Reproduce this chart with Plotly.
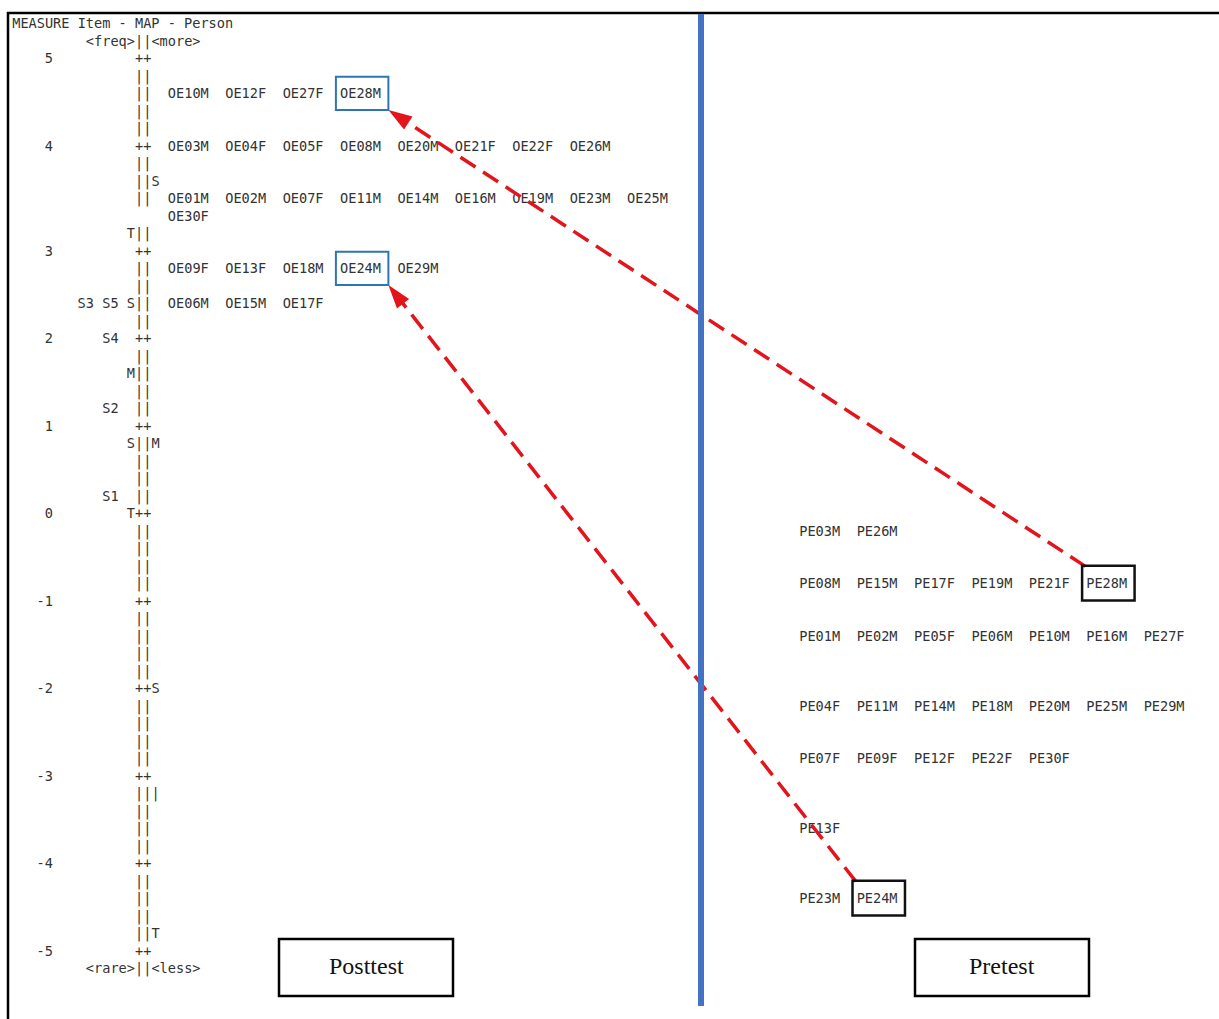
import plotly.graph_objects as go

# ---------------- data ----------------
SCALE_TICKS = [5, 4, 3, 2, 1, 0, -1, -2, -3, -4, -5]

ITEM_NAMES = ["S3", "S5", "S4", "S2", "S1"]
ITEM_MEASURES = [2.4, 2.4, 2.0, 1.2, 0.2]

ITEM_STAT_LETTERS = ["T", "S", "M", "S", "T"]
ITEM_STAT_MEASURES = [3.2, 2.4, 1.6, 0.8, 0.0]

PERSON_STAT_LETTERS = ["S", "M", "S", "|", "T"]
PERSON_STAT_MEASURES = [3.6, 0.8, -2.0, -3.2, -4.8]

POST_MEASURES = [4.6, 4.0, 3.4, 2.8, 2.4]
POST_LABELS = [
    ["OE10M", "OE12F", "OE27F", "OE28M"],
    ["OE03M", "OE04F", "OE05F", "OE08M", "OE20M", "OE21F", "OE22F", "OE26M"],
    ["OE01M", "OE02M", "OE07F", "OE11M", "OE14M", "OE16M", "OE19M", "OE23M", "OE25M", "OE30F"],
    ["OE09F", "OE13F", "OE18M", "OE24M", "OE29M"],
    ["OE06M", "OE15M", "OE17F"],
]

PRE_MEASURES = [-0.2, -0.8, -1.4, -2.2, -2.8, -3.6, -4.4]
PRE_LABELS = [
    ["PE03M", "PE26M"],
    ["PE08M", "PE15M", "PE17F", "PE19M", "PE21F", "PE28M"],
    ["PE01M", "PE02M", "PE05F", "PE06M", "PE10M", "PE16M", "PE27F"],
    ["PE04F", "PE11M", "PE14M", "PE18M", "PE20M", "PE25M", "PE29M"],
    ["PE07F", "PE09F", "PE12F", "PE22F", "PE30F"],
    ["PE13F"],
    ["PE23M", "PE24M"],
]

HIGHLIGHT_PAIRS = [("OE28M", "PE28M"), ("OE24M", "PE24M")]

HEADER = "MEASURE Item - MAP - Person"
CAPTIONS = ["Posttest", "Pretest"]

# ---------------- layout constants ----------------
W, H = 1219, 1019
CHAR_W = 8.2      # px per text column
ROW_H = 17.5      # px per text row
X0_PX, Y0_PX = 12, 23
TEXT_DY = 2.0 / ROW_H   # small baseline correction for text rendering
WRAP_AFTER = 9
POST_COL = 19
PRE_COL = 96
LABEL_STEP = 7
FONT = dict(family="DejaVu Sans Mono", size=13.6, color="#333333")


def row_of(m):
    """text row of a measure (one row per 0.2 logit, one extra row for the wrapped line)."""
    r = 2 + int(round((5 - m) * 5))
    if m < 3.3:
        r += 1
    return r


xs, ys, ts = [], [], []


def put(col, row, text):
    xs.append(col + len(text) / 2.0)
    ys.append(row + TEXT_DY)
    ts.append(text)


# header lines
put(0, 0, HEADER)
put(9, 1, "<freq>")
put(15, 1, "||")
put(17, 1, "<more>")

# ruler
for k in range(51):
    m = 5 - k / 5.0
    is_int = (k % 5 == 0)
    put(15, row_of(m), "++" if is_int else "||")

bottom_row = row_of(-5) + 1
put(9, bottom_row, "<rare>")
put(15, bottom_row, "||")
put(17, bottom_row, "<less>")

# scale numbers (right aligned ending at column 5)
for v in SCALE_TICKS:
    s = str(v)
    put(5 - len(s), row_of(v), s)

# items on the left, right aligned ending before column 13
rows_items = {}
for name, m in zip(ITEM_NAMES, ITEM_MEASURES):
    rows_items.setdefault(row_of(m), []).append(name)
for r, names in rows_items.items():
    n = len(names)
    for i, nm in enumerate(names):
        put(11 - 3 * (n - 1 - i), r, nm)

for s, m in zip(ITEM_STAT_LETTERS, ITEM_STAT_MEASURES):
    put(14, row_of(m), s)
for s, m in zip(PERSON_STAT_LETTERS, PERSON_STAT_MEASURES):
    put(17, row_of(m), s)

# persons
label_pos = {}
for m, labels in zip(POST_MEASURES, POST_LABELS):
    r = row_of(m)
    for j, lab in enumerate(labels):
        rr = r + j // WRAP_AFTER
        c = POST_COL + LABEL_STEP * (j % WRAP_AFTER)
        put(c, rr, lab)
        label_pos[lab] = (c, rr)

for m, labels in zip(PRE_MEASURES, PRE_LABELS):
    r = row_of(m)
    for j, lab in enumerate(labels):
        c = PRE_COL + LABEL_STEP * j
        put(c, r, lab)
        label_pos[lab] = (c, r)

fig = go.Figure()
fig.add_trace(go.Scatter(
    x=xs, y=ys, text=ts, mode="text", textposition="middle center",
    textfont=FONT, hoverinfo="skip", cliponaxis=False,
))

# highlight boxes + arrows
for post, pre in HIGHLIGHT_PAIRS:
    pc, pr = label_pos[post]
    qc, qr = label_pos[pre]
    fig.add_shape(type="rect", xref="x", yref="y",
                  x0=pc - 0.5, x1=pc + 5.9, y0=pr - 0.93, y1=pr + 0.97,
                  line=dict(color="#2E75B6", width=2))
    fig.add_shape(type="rect", xref="x", yref="y",
                  x0=qc - 0.5, x1=qc + 5.9, y0=qr - 0.98, y1=qr + 1.0,
                  line=dict(color="#111111", width=2.5))
    fig.add_trace(go.Scatter(
        x=[qc - 0.1, pc + 5.9], y=[qr - 0.95, pr + 0.97],
        mode="lines+markers",
        line=dict(color="#E3141B", width=3.5, dash="18px,9px"),
        marker=dict(symbol=["circle", "arrow"], size=[0, 25],
                    angleref="previous", color="#E3141B",
                    line=dict(width=0), opacity=1),
        hoverinfo="skip",
    ))


# frame and divider (paper coordinates)
def px(x):
    return x / W


def py(y):
    return 1 - y / H


fig.add_shape(type="line", xref="paper", yref="paper",
              x0=px(7), x1=px(W), y0=py(13), y1=py(13),
              line=dict(color="#000000", width=2.5))
fig.add_shape(type="line", xref="paper", yref="paper",
              x0=px(8), x1=px(8), y0=py(12), y1=py(H),
              line=dict(color="#000000", width=2.5))
fig.add_shape(type="line", xref="paper", yref="paper",
              x0=px(701), x1=px(701), y0=py(14), y1=py(1006),
              line=dict(color="#4472C4", width=6))

for label, (bx0, bx1) in zip(CAPTIONS, [(279, 453), (915, 1089)]):
    fig.add_shape(type="rect", xref="paper", yref="paper",
                  x0=px(bx0), x1=px(bx1), y0=py(939), y1=py(996),
                  line=dict(color="#000000", width=2.5), fillcolor="white")
    fig.add_annotation(x=px((bx0 + bx1) / 2), y=py(966), xref="paper", yref="paper",
                       xanchor="center", yanchor="middle",
                       text=label, showarrow=False,
                       font=dict(family="Liberation Serif", size=24, color="#111111"))

fig.update_layout(
    width=W, height=H,
    margin=dict(l=0, r=0, t=0, b=0, pad=0),
    paper_bgcolor="white", plot_bgcolor="white",
    showlegend=False,
    xaxis=dict(visible=False, range=[-X0_PX / CHAR_W, (W - X0_PX) / CHAR_W], fixedrange=True),
    yaxis=dict(visible=False, range=[(H - Y0_PX) / ROW_H, -Y0_PX / ROW_H], fixedrange=True),
)

fig.write_html("out.html",
               config={"displayModeBar": False},
               post_script="document.body.style.margin='0';document.body.style.overflow='hidden';")
